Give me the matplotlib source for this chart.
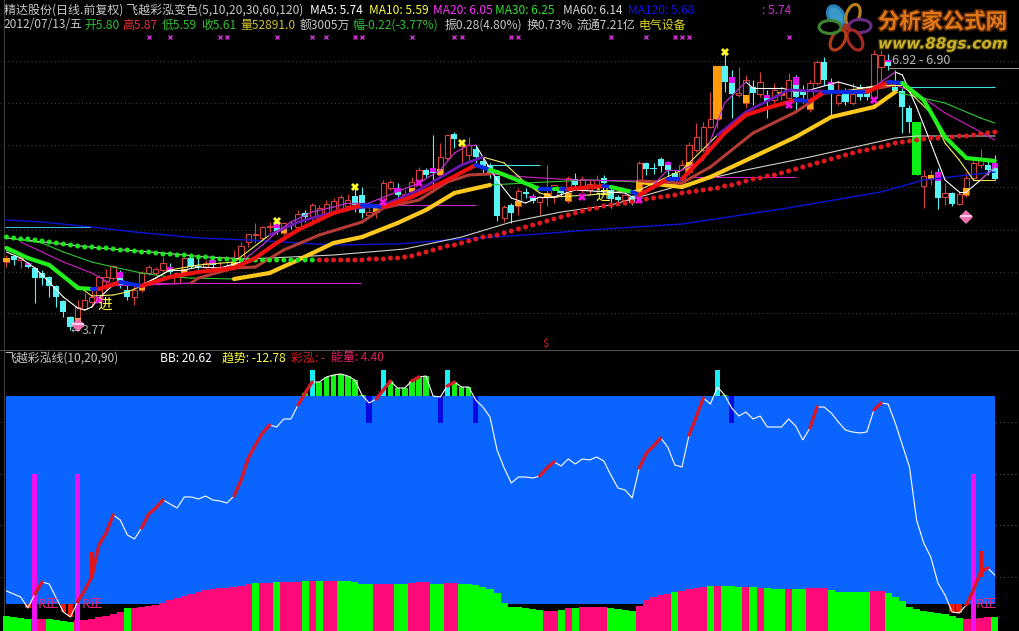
import numpy as np
import matplotlib
matplotlib.use('Agg')
import matplotlib.pyplot as plt
import matplotlib.patheffects as pe
from matplotlib.patches import Ellipse

plt.rcParams['font.family'] = ['Noto Sans CJK SC', 'DejaVu Sans']

# candles
opens = [4.88,4.94,4.90,4.87,4.82,4.77,4.73,4.64,4.49,4.33,4.32,4.41,4.48,4.50,4.69,4.72,4.78,4.60,4.53,4.60,
         4.77,4.77,4.80,4.83,4.67,4.77,4.92,4.84,4.83,4.90,4.80,4.81,4.85,4.91,5.08,5.15,5.12,5.23,5.27,5.17,
         5.25,5.23,5.37,5.33,5.32,5.36,5.38,5.40,5.44,5.54,5.55,5.35,5.38,5.50,5.62,5.62,5.53,5.58,5.70,5.80,
         5.82,5.75,5.92,6.16,6.04,5.95,6.01,5.89,5.85,5.74,5.32,5.45,5.44,5.58,5.54,5.48,5.53,5.53,5.62,5.49,
         5.71,5.60,5.60,5.62,5.72,5.60,5.53,5.50,5.53,5.57,5.87,5.82,5.91,5.88,5.77,5.70,5.78,6.00,6.00,6.23,
         6.31,6.84,6.73,6.55,6.47,6.63,6.56,6.55,6.50,6.55,6.52,6.73,6.60,6.41,6.67,6.88,6.68,6.47,6.57,6.47,
         6.63,6.60,6.52,6.83,6.90,6.63,6.59,6.42,6.28,5.64,5.71,5.78,5.53,5.57,5.46,5.55,5.72,5.85,5.85,5.87]
highs = [4.95,4.95,4.93,4.88,4.83,4.80,4.74,4.65,4.50,4.34,4.50,4.57,4.60,4.75,4.81,4.85,4.80,4.65,4.65,4.79,
         4.85,4.83,4.93,4.87,4.78,4.93,4.93,4.93,4.90,4.93,4.88,4.88,5.00,5.08,5.16,5.27,5.24,5.28,5.29,5.28,
         5.28,5.40,5.40,5.47,5.45,5.50,5.52,5.55,5.56,5.63,5.63,5.45,5.46,5.70,5.70,5.67,5.60,5.73,5.83,5.82,
         6.15,6.07,6.15,6.18,6.10,6.13,6.05,5.92,5.87,5.74,5.45,5.47,5.62,5.62,5.56,5.54,5.85,5.65,5.64,5.74,
         5.77,5.74,5.70,5.75,5.75,5.62,5.55,5.60,5.55,5.89,5.88,5.87,5.93,5.89,5.80,5.90,6.08,6.27,6.28,6.58,
         6.84,6.98,6.80,6.83,6.75,6.70,6.78,6.60,6.67,6.62,6.77,6.75,6.65,6.70,6.90,6.93,6.72,6.68,6.62,6.67,
         6.66,6.64,7.00,7.00,6.96,6.80,6.62,6.45,6.28,5.80,5.80,5.82,5.67,5.58,5.58,5.78,5.90,6.01,5.92,5.95]
lows = [4.83,4.85,4.82,4.82,4.47,4.65,4.53,4.43,4.33,4.20,4.28,4.40,4.43,4.47,4.60,4.70,4.62,4.50,4.45,4.58,
        4.75,4.75,4.78,4.76,4.66,4.76,4.82,4.81,4.80,4.82,4.78,4.79,4.83,4.88,5.03,5.07,5.10,5.18,5.16,5.15,
        5.21,5.22,5.28,5.28,5.30,5.34,5.36,5.38,5.40,5.38,5.32,5.33,5.32,5.43,5.60,5.48,5.50,5.55,5.65,5.73,
        5.58,5.73,5.90,6.02,5.85,5.90,5.87,5.77,5.72,5.29,5.28,5.27,5.35,5.52,5.47,5.35,5.44,5.47,5.54,5.47,
        5.60,5.57,5.56,5.58,5.63,5.42,5.45,5.45,5.45,5.55,5.75,5.76,5.78,5.73,5.70,5.62,5.75,5.98,5.98,6.22,
        6.22,6.58,6.32,6.53,6.42,6.45,6.53,6.32,6.45,6.50,6.50,6.40,6.47,6.38,6.65,6.65,6.32,6.45,6.45,6.45,
        6.50,6.50,6.50,6.68,6.80,6.58,6.17,6.17,5.75,5.42,5.65,5.41,5.45,5.44,5.45,5.53,5.70,5.82,5.75,5.70]
closes = [4.92,4.90,4.92,4.83,4.72,4.72,4.64,4.53,4.38,4.23,4.43,4.50,4.53,4.73,4.73,4.84,4.65,4.53,4.60,4.77,
          4.83,4.81,4.87,4.78,4.77,4.92,4.83,4.83,4.87,4.85,4.83,4.84,4.88,5.04,5.16,5.16,5.23,5.24,5.18,5.27,
          5.24,5.36,5.33,5.45,5.42,5.46,5.49,5.53,5.50,5.45,5.37,5.38,5.42,5.67,5.68,5.55,5.56,5.68,5.80,5.75,
          5.77,5.93,6.15,6.11,6.07,6.05,5.93,5.82,5.77,5.34,5.43,5.37,5.59,5.56,5.49,5.53,5.57,5.65,5.57,5.72,
          5.65,5.71,5.66,5.70,5.67,5.51,5.50,5.55,5.47,5.87,5.81,5.81,5.84,5.80,5.73,5.85,6.05,6.13,6.23,6.31,
          6.84,6.68,6.56,6.57,6.70,6.57,6.68,6.49,6.60,6.58,6.70,6.53,6.55,6.67,6.88,6.70,6.57,6.55,6.48,6.56,
          6.53,6.53,6.96,6.95,6.84,6.59,6.43,6.28,5.75,5.74,5.75,5.52,5.57,5.46,5.56,5.72,5.87,5.90,5.80,5.71]

orange_bars = [0,10,19,25,32,39,52,57,61,72,76,79,89,96,104,109,113,130,135]
orange_top = [4.92,4.32,4.64,4.81,4.88,5.22,5.42,5.62,5.81,5.49,5.57,5.57,5.70,5.88,6.55,6.58,6.48,5.75,5.62]
orange_bot = [4.88,4.28,4.60,4.77,4.84,5.17,5.38,5.58,5.75,5.44,5.53,5.49,5.57,5.78,6.47,6.55,6.41,5.71,5.55]
magenta_bars = [3,16,23,29,38,55,60,74,78,93,102,107,111,116,124,131,139]
magenta_top = [4.87,4.78,4.83,4.90,5.26,5.62,5.82,5.54,5.62,5.88,6.73,6.55,6.73,6.68,6.90,5.78,5.87]
magenta_bot = [4.85,4.72,4.80,4.86,5.22,5.58,5.78,5.52,5.59,5.85,6.67,6.52,6.65,6.65,6.88,5.69,5.82]
big_orange = [100]
big_orange_top = [6.84]
big_orange_bot = [6.31]
big_green = [128]
big_green_top = [6.28]
big_green_bot = [5.75]
star_m_bars = [13,53,58,81,89,110,122]
star_m_vals = [4.50,5.48,5.67,5.53,5.50,6.45,6.50]
star_y_bars = [38,49,64,101]
star_y_vals = [5.29,5.63,6.07,6.98]
top_cross_bars = [20,23,30,31,38,43,45,49,50,57,63,64,71,72,85,90,94,95,96,110]
diamond_bars = [10,135]
diamond_vals = [4.25,5.33]

# moving averages as read at the turning points
ma5_idx = [0,2,4,6,8,10,11,12,13,15,16,18,19,21,23,25,27,30,33,36,38,40,43,46,48,51,58,61,63,65,66,67,69,71,73,75,77,80,87,88,90,93,95,98,101,104,105,109,111,113,117,120,122,125,126,128,130,132,134,135,137,139]
ma5_val = [4.98,4.92,4.82,4.68,4.53,4.42,4.40,4.43,4.52,4.65,4.70,4.65,4.65,4.72,4.80,4.80,4.83,4.82,4.88,5.05,5.18,5.28,5.38,5.43,5.47,5.47,5.67,5.80,5.97,6.05,6.05,5.93,5.70,5.52,5.47,5.53,5.53,5.60,5.57,5.53,5.58,5.80,5.80,5.90,6.47,6.68,6.62,6.62,6.58,6.60,6.68,6.62,6.63,6.78,6.75,6.43,6.07,5.70,5.58,5.58,5.70,5.83]
ma5_rise = [(33,66),(90,104),(122,125),(136,139)]

ma10_idx = [0,6,12,15,17,19,23,27,32,37,41,47,53,58,64,67,70,73,75,77,82,86,89,95,100,104,110,117,123,126,130,132,134,136,137,139]
ma10_val = [5.00,4.85,4.54,4.55,4.58,4.64,4.80,4.85,4.88,5.15,5.28,5.40,5.45,5.60,5.85,5.93,5.87,5.67,5.57,5.53,5.55,5.58,5.60,5.80,6.15,6.38,6.60,6.58,6.65,6.65,6.37,6.07,5.90,5.70,5.70,5.83]
ma10_rise = [(37,67),(98,117)]

ma20_idx = [2,5,8,12,15,20,26,27,32,35,39,44,50,53,58,62,65,68,73,80,89,95,99,105,111,115,121,125,128,132,136,139]
ma20_val = [5.08,4.98,4.88,4.77,4.65,4.65,4.67,4.72,4.82,4.83,5.00,5.15,5.28,5.42,5.50,5.68,5.75,5.76,5.73,5.70,5.69,5.67,5.83,6.17,6.38,6.57,6.60,6.65,6.57,6.37,6.22,6.10]
ma20_rise = [(26,68),(89,125)]

ma30_idx = [1,5,8,12,15,19,23,26,32,37,41,46,50,55,59,63,68,73,82,89,95,99,105,111,116,122,125,132,137,139]
ma30_val = [5.11,5.07,4.98,4.88,4.83,4.77,4.73,4.72,4.71,4.77,4.90,5.07,5.13,5.27,5.40,5.57,5.65,5.67,5.70,5.68,5.63,5.73,5.93,6.13,6.33,6.43,6.58,6.47,6.32,6.27]
ma30_rise = [(32,68),(89,125)]

ma60_idx = [0,13,22,28,34,46,56,64,71,78,85,95,104,113,125,128,139]
ma60_val = [5.12,5.02,4.97,4.93,4.91,4.95,5.01,5.13,5.28,5.38,5.45,5.65,5.80,5.93,6.12,6.14,6.14]

ma120_idx = [0,5,12,18,27,34,46,55,62,73,82,95,109,123,129,139]
ma120_val = [5.30,5.28,5.23,5.18,5.12,5.10,5.05,5.06,5.10,5.15,5.20,5.26,5.41,5.58,5.70,5.78]

# thick line that changes colour
thick_idx = [0,3,6,9,10,12,13,16,19,23,27,32,35,38,41,46,50,53,57,62,66,68,69,75,77,78,79,84,85,88,89,93,95,98,101,104,107,111,113,115,121,124,126,129,132,135,139]
thick_val = [5.02,4.92,4.85,4.68,4.62,4.61,4.61,4.68,4.64,4.73,4.78,4.82,4.92,5.07,5.20,5.37,5.45,5.43,5.53,5.70,5.85,5.80,5.78,5.61,5.61,5.61,5.61,5.64,5.63,5.58,5.55,5.71,5.71,5.93,6.17,6.35,6.42,6.50,6.49,6.58,6.58,6.68,6.67,6.50,6.13,5.92,5.89]
thick_col = 'gggggbrbrrrrrrrrbrrrbggbgbrbgbrbrrrrrbrbrbgggg'

# dotted line, one dot per bar
dot_val = [5.13,5.12,5.11,5.11,5.10,5.09,5.08,5.07,5.06,5.05,5.04,5.03,5.03,5.02,5.02,5.01,5.00,5.00,4.99,4.98,
           4.98,4.97,4.96,4.96,4.95,4.95,4.94,4.93,4.93,4.92,4.91,4.91,4.90,4.90,4.90,4.90,4.90,4.90,4.90,4.90,
           4.90,4.90,4.90,4.90,4.90,4.90,4.90,4.90,4.90,4.90,4.90,4.91,4.91,4.91,4.92,4.92,4.93,4.94,4.96,4.98,
           5.00,5.02,5.04,5.05,5.07,5.09,5.11,5.13,5.14,5.15,5.17,5.19,5.21,5.23,5.25,5.27,5.29,5.31,5.33,5.35,
           5.37,5.39,5.41,5.42,5.44,5.45,5.46,5.47,5.48,5.49,5.51,5.52,5.53,5.54,5.55,5.57,5.58,5.59,5.60,5.61,
           5.62,5.64,5.65,5.67,5.69,5.71,5.72,5.74,5.75,5.77,5.79,5.81,5.83,5.85,5.87,5.89,5.91,5.93,5.95,5.97,
           5.99,6.00,6.02,6.03,6.05,6.07,6.08,6.09,6.10,6.11,6.12,6.12,6.13,6.13,6.14,6.14,6.15,6.16,6.17,6.18]
dot_green_until = 43

# short level lines
level_start = [20.2,-0.2,68,126,96,54,136,124]
level_end = [49.8,11.7,75,139,111,66,139,142.6]
level_val = [4.67,5.23,5.85,6.63,5.73,5.45,5.70,6.82]
level_col = ['#d020c8','#40b8d8','#40e0e0','#40e0e0','#d020c8','#d020c8','#e8e040','#909090']
grid_top = [6.89,6.47,6.05,5.63,5.20,4.78,4.37]

# lower panel
bb = [40,37,34,23,37,49,47,33,19,14,29,41,54,86,98,116,111,96,92,103,
      117,123,131,127,123,134,134,132,135,131,130,128,135,151,173,186,198,206,204,212,
      212,226,238,249,249,254,256,257,255,251,236,228,232,241,250,243,243,250,254,255,
      235,234,245,249,244,244,231,224,214,181,163,148,154,154,153,155,163,169,165,172,
      167,172,171,174,170,156,143,141,133,163,178,185,193,184,166,164,196,214,233,227,
      244,236,223,215,219,212,215,204,204,204,212,205,191,203,224,224,218,209,201,199,
      198,199,221,228,227,208,186,164,111,88,74,48,36,19,18,26,41,59,63,56]
bb_red_ranges = [(4,5),(10,15),(19,22),(32,37),(41,43),(52,54),(57,58),(62,63),(75,77),(89,92),(96,98),(113,114),(122,123),(135,138)]
energy = [15,14,13,12,12,12,12,11,10,9,11,11,12,14,15,17,19,23,23,24,
          25,26,28,31,33,35,37,39,41,42,43,43,44,45,47,48,48,48,49,49,
          49,49,50,50,50,50,50,50,50,49,47,47,47,47,47,47,47,48,49,49,
          47,47,48,48,47,47,46,44,42,38,28,24,24,23,22,21,20,20,21,23,
          23,24,24,24,24,23,22,21,20,25,31,34,36,37,39,40,42,43,44,45,
          45,45,45,44,44,44,43,43,42,42,42,42,42,43,43,43,41,39,39,39,
          39,39,40,40,38,34,30,24,22,20,19,18,17,15,13,12,12,13,14,14]
energy_green = [(0,3),(6,9),(17,17),(35,35),(38,38),(42,42),(44,44),(47,51),(55,56),(60,61),(64,75),(78,78),(80,80),
                (85,88),(94,94),(99,99),(101,103),(105,105),(107,109),(111,112),(116,121),(124,134),(139,139)]
band_top = 235
band_bottom = 27
cyan_bars = [43,53,62,100]
cyan_top = 261
navy_bars = [51,61,66,102]
navy_bottom = 208
magenta_pillars = [4,10,136]
pillar_top = 157
red_low_bars = [3,8,9,133,134,135]
spike_bars = [12,137]
spike_top = [79,80]
spike_bot = [54,54]
grid_bot = [209,157,106,54]

RED = '#d8403a'
CYAN = '#58f4f4'
PINK = '#ff0a78'
LIME = '#00ff00'
BLUE = '#0a64ff'
GOLD = '#ffc81e'
BROWN = '#b53c34'
THICK = {'g': '#22f01c', 'r': '#f01010', 'b': '#0a28e0'}


def in_ranges(i, ranges):
    return any(a <= i < b for a, b in ranges)


def draw_segments(ax, idx, val, ranges, base, hi, lw_base, lw_hi, z=5):
    for k in range(len(idx) - 1):
        up = in_ranges(idx[k], ranges)
        ax.plot(idx[k:k + 2], val[k:k + 2], color=hi if up else base,
                lw=lw_hi if up else lw_base, solid_capstyle='round', zorder=z + (1 if up else 0))


fig = plt.figure(figsize=(10.2, 6.31), dpi=100, facecolor='black')
SEP = 350 / 631
ax = fig.add_axes([0, 1 - SEP, 1, SEP], facecolor='black')
ax2 = fig.add_axes([0, 0, 1, 1 - SEP], facecolor='black')
xlim = (-6.5 / 7.11, (1020 - 6.5) / 7.11)
ax.set_xlim(xlim)
ax.set_ylim(4.0, 7.5)
ax2.set_xlim(xlim)
ax2.set_ylim(0, 281)
for a in (ax, ax2):
    a.axis('off')

bars = np.arange(len(closes))
o = np.array(opens)
c = np.array(closes)
up = c >= o

for v in grid_top:
    ax.hlines(v, xlim[0], xlim[1], color='#484848', lw=0.7, linestyles=(0, (1, 3)), zorder=1)
ax.axvline(-0.42, color='#404040', lw=0.7)

ax.vlines(bars[up], np.array(lows)[up], np.array(highs)[up], color=RED, lw=0.8, zorder=2)
ax.vlines(bars[~up], np.array(lows)[~up], np.array(highs)[~up], color=CYAN, lw=0.8, zorder=2)
ax.bar(bars[up], (c - o)[up], bottom=o[up], width=0.75, facecolor='black', edgecolor=RED, lw=0.8, zorder=3)
ax.bar(bars[~up], (o - c)[~up], bottom=c[~up], width=0.85, color=CYAN, lw=0, zorder=3)
ot, ob = np.array(orange_top), np.array(orange_bot)
ax.bar(orange_bars, ot - ob, bottom=ob, width=0.85, color='#ffa812', lw=0, zorder=4)
mt, mb = np.array(magenta_top), np.array(magenta_bot)
ax.bar(magenta_bars, mt - mb, bottom=mb, width=0.9, color='#e010f0', lw=0, zorder=4)
ax.bar(big_orange, np.array(big_orange_top) - big_orange_bot, bottom=big_orange_bot, width=1.3, color='#ff9a0a', lw=0, zorder=4)
ax.bar(big_green, np.array(big_green_top) - big_green_bot, bottom=big_green_bot, width=1.3, color='#0cf018', lw=0, zorder=4)

ax.plot(ma120_idx, ma120_val, color='#0a14d8', lw=1.0, zorder=5)
ax.plot(ma60_idx, ma60_val, color='#d0d0c8', lw=0.8, zorder=5)
for s, e, v, col in zip(level_start, level_end, level_val, level_col):
    ax.hlines(v, s, e, color=col, lw=0.8, zorder=5)

draw_segments(ax, ma30_idx, ma30_val, ma30_rise, '#30c830', GOLD, 0.8, 3.0, z=6)
draw_segments(ax, ma20_idx, ma20_val, ma20_rise, '#d020c8', BROWN, 0.8, 2.2, z=6)
draw_segments(ax, ma10_idx, ma10_val, ma10_rise, '#f0f060', '#6a18b4', 0.8, 2.0, z=7)
draw_segments(ax, ma5_idx, ma5_val, ma5_rise, '#ffffff', '#c030c8', 0.8, 0.9, z=7)

for k in range(len(thick_idx) - 1):
    ax.plot(thick_idx[k:k + 2], thick_val[k:k + 2], color=THICK[thick_col[k]], lw=3.0,
            solid_capstyle='round', zorder=9)

dot_cols = ['#1ee61e' if i <= dot_green_until else '#e01820' for i in bars]
ax.scatter(bars, dot_val, s=13, c=dot_cols, linewidths=0, zorder=8)

ax.plot(star_m_bars, star_m_vals, ls='', marker='X', ms=6, color='#f010e0', mew=0, zorder=10)
ax.plot(star_y_bars, star_y_vals, ls='', marker='X', ms=6, color='#ffff30', mew=0, zorder=10)
ax.plot(top_cross_bars, [7.13] * len(top_cross_bars), ls='', marker='x', ms=2.8, mew=1.0, color='#d030d0', zorder=10)
ax.plot(diamond_bars, diamond_vals, ls='', marker='D', ms=7.5, color='#f070b0', mew=0, zorder=11)
ax.plot(diamond_bars, [v + 0.01 for v in diamond_vals], ls='', marker='_', ms=8, color='#ffe0f0', mew=1.2, zorder=12)

# lower panel
for v in grid_bot:
    ax2.hlines(v, xlim[0], xlim[1], color='#606060', lw=0.7, linestyles=(0, (1, 3)), zorder=1)
ax2.axvline(-0.42, color='#404040', lw=0.7)
ax2.fill_between([-0.07, 139.0], band_bottom, band_top, color=BLUE, lw=0, zorder=2)
ecols = [LIME if any(a <= i <= b for a, b in energy_green) else PINK for i in bars]
ax2.bar(bars, energy, width=1.0, color=ecols, lw=0, zorder=3)

bb_arr = np.array(bb)
for i in bars:
    if bb_arr[i] > band_top and i not in cyan_bars:
        ax2.bar(i, bb_arr[i] - band_top, bottom=band_top, width=0.8, color='#12f014', lw=0, zorder=3)
ax2.bar(cyan_bars, [cyan_top - band_top] * 4, bottom=band_top, width=0.75, color='#18f0f8', lw=0, zorder=4)
ax2.bar(navy_bars, [band_top - navy_bottom] * 4, bottom=navy_bottom, width=0.75, color='#0808e0', lw=0, zorder=4)
ax2.bar(magenta_pillars, [pillar_top] * 3, width=0.72, color='#f010f0', lw=0, zorder=5)
ax2.bar(red_low_bars, [band_bottom - bb[i] for i in red_low_bars], bottom=[bb[i] for i in red_low_bars],
        width=0.8, color='#f01808', lw=0, zorder=5)

ax2.plot(bars, bb, color='white', lw=0.8, zorder=6)
for a_, b_ in bb_red_ranges:
    ax2.plot(bars[a_:b_ + 1], bb[a_:b_ + 1], color='#d81828', lw=2.4, solid_capstyle='round', zorder=7)
ax2.vlines(spike_bars, spike_bot, spike_top, color='#e81414', lw=3.0, zorder=7)


def label(x, y, s, color, size=8.6, **kw):
    fig.text(x / 1020, 1 - y / 631, s, color=color, fontsize=size, va='center', ha='left', zorder=20, **kw)


GREY = '#c8c8c8'
label(4, 10, '精达股份(日线.前复权) 飞越彩泓变色(5,10,20,30,60,120)', GREY, size=8.65)
label(310, 10, 'MA5: 5.74', 'white')
label(369, 10, 'MA10: 5.59', '#ffff40')
label(433, 10, 'MA20: 6.05', '#ff30ff')
label(495, 10, 'MA30: 6.25', '#30e030')
label(563, 10, 'MA60: 6.14', '#d8d8d8')
label(628, 10, 'MA120: 5.68', '#1414e0')
label(762, 10, ': 5.74', '#d030d0')

label(4, 25, '2012/07/13/五', GREY)
label(84, 25, '开5.80', '#30c030')
label(122, 25, '高5.87', '#e83030')
label(162, 25, '低5.59', '#30c030')
label(201, 25, '收5.61', '#30c030')
label(240, 25, '量52891.0', '#d0c030')
label(300, 25, '额3005万', GREY)
label(352, 25, '幅-0.22(-3.77%)', '#30c030')
label(445, 25, '振0.28(4.80%)', GREY)
label(527, 25, '换0.73%', GREY)
label(577, 25, '流通7.21亿', GREY)
label(639, 25, '电气设备', '#e0d820')

label(4, 358, '飞越彩泓线(10,20,90)', GREY)
label(160, 358, 'BB: 20.62', 'white')
label(222, 358, '趋势: -12.78', '#ffff40')
label(291, 358, '彩泓: -', '#d82020')
label(331, 358, '能量: 4.40', '#e02060')
label(542, 344, '$', '#e02020', size=8)

label(71, 331, '←', GREY, size=7)
label(82, 331, '3.77', '#b0b0b0', size=9)
label(892, 60, '6.92 - 6.90', '#b8b8b8', size=9)
label(97, 305, '进', '#ffff40', size=10.5)
label(595, 196, '进', '#ffff40', size=10.5)

for x in (38, 82, 976):
    label(x, 605, 'R正', '#e02880', size=9.5)

# logo in the corner
logo = fig.add_axes([0, 0, 1, 1], facecolor='none', zorder=15)
logo.set_xlim(0, 1020)
logo.set_ylim(631, 0)
logo.axis('off')
petals = [(836, 16, 15, 22, 150, '#2a80b8', '#3a9ac8'), (853, 15, 13, 22, 20, '#b88018', 'black'),
          (860, 26, 22, 13, 0, '#6a2a88', 'black'), (855, 40, 13, 22, 150, '#a82820', 'black'),
          (838, 40, 13, 22, 30, '#b03c18', 'black'), (830, 27, 22, 13, 0, '#3e8430', 'black')]
for cx, cy, w, h, ang, edge, face in petals:
    logo.add_patch(Ellipse((cx, cy), w, h, angle=ang, facecolor=face, edgecolor=edge, lw=2.2))
logo.add_patch(Ellipse((846, 27), 7, 7, facecolor='#a03020', edgecolor='none'))
logo.text(878, 22, '分析家公式网', color='#e07818', fontsize=15.5, fontweight='bold', va='center',
          path_effects=[pe.withStroke(linewidth=2.2, foreground='#5a2808')])
logo.text(878, 44, 'www.88gs.com', color='#c8b028', fontsize=11, fontweight='bold', style='italic',
          family='DejaVu Sans', va='center', path_effects=[pe.withStroke(linewidth=1.6, foreground='#3a3008')])

fig.add_artist(plt.Line2D([0, 1], [1 - SEP, 1 - SEP], color='#505050', lw=0.8))
fig.savefig('out.png', dpi=100, facecolor='black')
